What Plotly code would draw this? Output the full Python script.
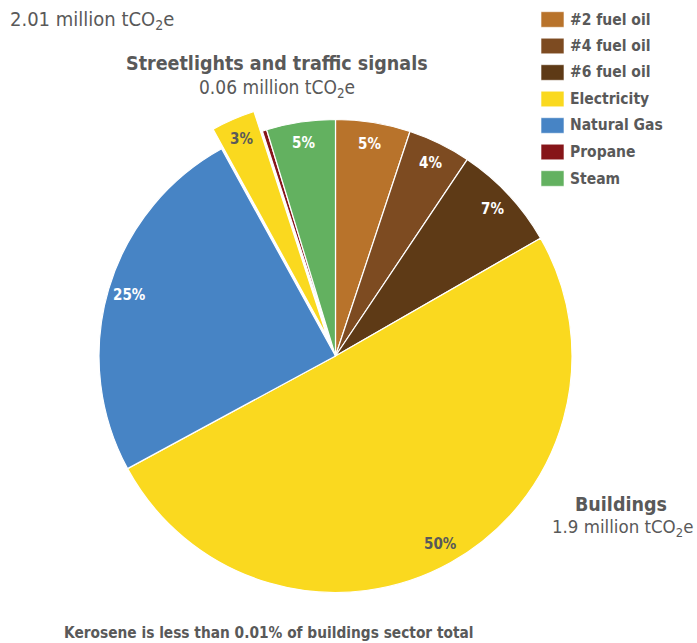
import math
import plotly.graph_objects as go

# Emissions share by fuel (percent of the combined total), clockwise from 12 o'clock
categories = ["#2 fuel oil", "#4 fuel oil", "#6 fuel oil", "Electricity", "Natural Gas",
              "Electricity - streetlights and traffic signals", "Propane", "Steam"]
shares = [5.1, 4.3, 7.3, 50.4, 24.9, 3.0, 0.3, 4.7]
slice_colors = ["#B8732B", "#7D4B21", "#5E3A16", "#FAD91F", "#4784C5", "#FAD91F", "#861519", "#63B160"]
pulls = [0, 0, 0, 0, 0, 0.09, 0, 0]
label_colors = ["white", "white", "white", "#595959", "white", "#595959", "white", "white"]

legend_names = ["#2 fuel oil", "#4 fuel oil", "#6 fuel oil", "Electricity", "Natural Gas", "Propane", "Steam"]
legend_colors = ["#B8732B", "#7D4B21", "#5E3A16", "#FAD91F", "#4784C5", "#861519", "#63B160"]

W, H = 697, 643
CX, CY, R = 335.5, 356.0, 236.5  # pie centre and radius in pixels
GRAY = "#595959"
NARROW = "DejaVu Sans Condensed, sans-serif"

max_pull = max(pulls)
half = R * (1 + max_pull)
domain_x = [(CX - half) / W, (CX + half) / W]
domain_y = [(H - CY - half) / H, (H - CY + half) / H]

fig = go.Figure(go.Pie(
    labels=categories,
    values=shares,
    sort=False,
    direction="clockwise",
    rotation=0,
    pull=pulls,
    marker=dict(colors=slice_colors, line=dict(color="white", width=1.2)),
    textinfo="none",
    hoverinfo="label+percent",
    showlegend=False,
    domain=dict(x=domain_x, y=domain_y),
))

annotations = []

# Percentage labels placed near the rim of each slice
total = sum(shares)
cum = 0.0
for val, col, pull in zip(shares, label_colors, pulls):
    mid = (cum + val / 2) / total * 2 * math.pi
    cum += val
    if val < 1:
        continue
    d = R * (0.91 + pull)
    px = CX + d * math.sin(mid)
    py = CY - d * math.cos(mid)
    annotations.append(dict(
        x=px / W, y=1 - py / H, xref="paper", yref="paper",
        text=f"<b>{val:.0f}%</b>", showarrow=False,
        font=dict(family=NARROW, size=15, color=col),
        xanchor="center", yanchor="middle",
    ))

# Legend drawn as swatches plus text
shapes = []
for i, (name, col) in enumerate(zip(legend_names, legend_colors)):
    yc = 19.5 + 26.5 * i
    shapes.append(dict(
        type="rect", xref="paper", yref="paper",
        x0=541 / W, x1=564 / W, y0=1 - (yc - 7.8) / H, y1=1 - (yc + 7.8) / H,
        fillcolor=col, line=dict(color="rgba(255,255,255,0.6)", width=1),
    ))
    annotations.append(dict(
        x=568 / W, y=1 - yc / H, xref="paper", yref="paper",
        text=f"<b>{name}</b>", showarrow=False,
        font=dict(family=NARROW, size=15.5, color=GRAY),
        xanchor="left", yanchor="middle",
    ))

def note(x, y, text, size, anchor="center", bold=False):
    annotations.append(dict(
        x=x / W, y=1 - y / H, xref="paper", yref="paper",
        text=f"<b>{text}</b>" if bold else text, showarrow=False,
        font=dict(family=NARROW, size=size, color=GRAY),
        xanchor=anchor, yanchor="middle",
    ))

note(8, 20, "2.01 million tCO<sub>2</sub>e", 20, anchor="left")
note(277, 64, "Streetlights and traffic signals", 19.5, bold=True)
note(277, 88, "0.06 million tCO<sub>2</sub>e", 19)
note(669, 504, "Buildings", 19.5, anchor="right", bold=True)
note(695, 528, "1.9 million tCO<sub>2</sub>e", 18.5, anchor="right")
note(62, 633, "Kerosene is less than 0.01% of buildings sector total", 15.3, anchor="left", bold=True)

fig.update_layout(
    width=W, height=H,
    margin=dict(l=0, r=0, t=0, b=0),
    paper_bgcolor="white",
    plot_bgcolor="white",
    annotations=annotations,
    shapes=shapes,
)

fig.write_html("out.html")
